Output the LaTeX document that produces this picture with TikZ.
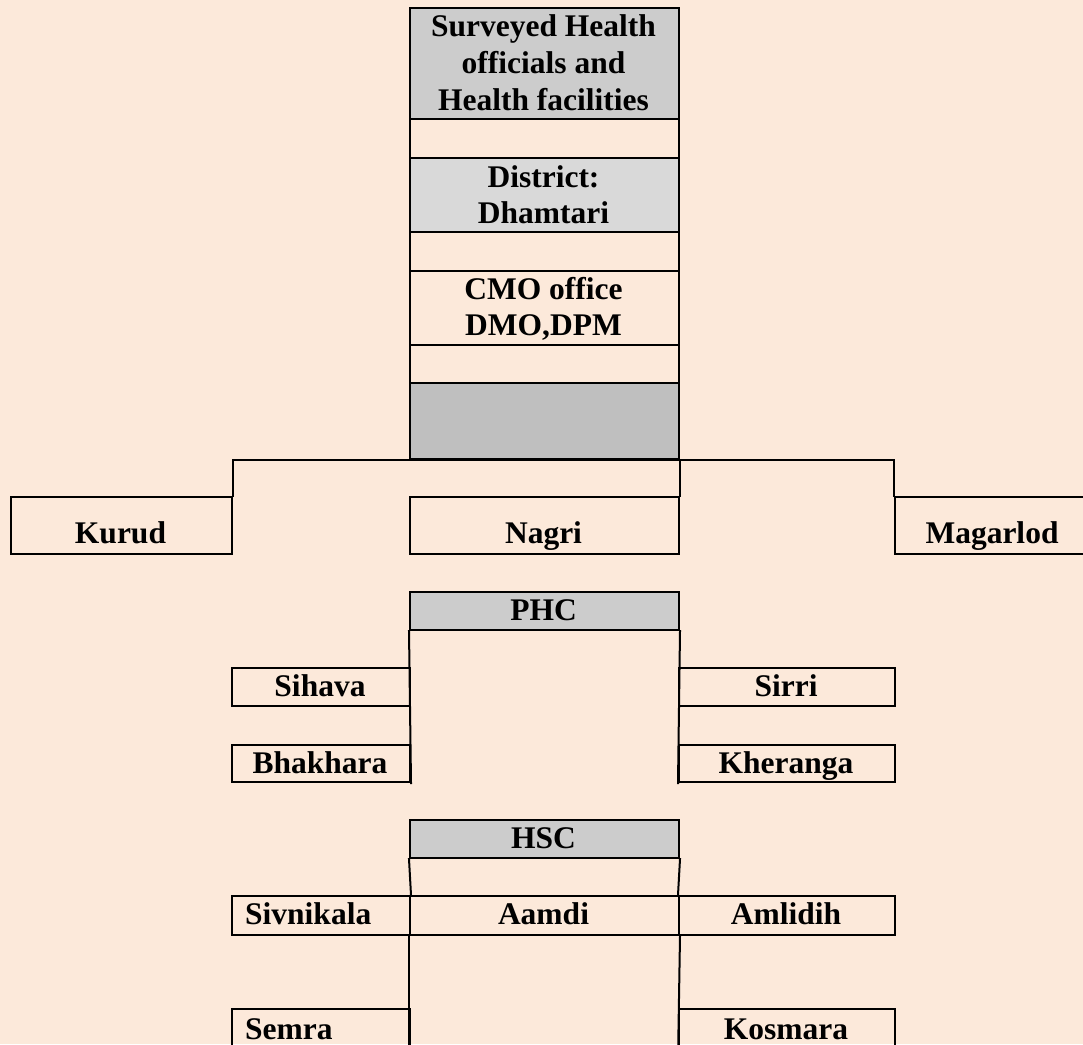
\documentclass[tikz,border=0pt]{standalone}
\usepackage{fontspec}
\setmainfont{Liberation Serif}
\definecolor{bg}{RGB}{252,233,218}
\definecolor{gA}{RGB}{204,204,204}
\definecolor{gB}{RGB}{217,217,217}
\definecolor{gC}{RGB}{191,191,191}
\begin{document}
\begin{tikzpicture}[x=1pt,y=-1pt,
  cell/.style={draw=black, line width=2pt, rectangle, inner sep=0pt, anchor=north west},
  txt/.style={font=\bfseries\fontsize{31.5}{37}\selectfont, inner sep=0pt, anchor=base},
  txtl/.style={txt, anchor=base west},
  conn/.style={draw=black, line width=2pt, line cap=rect}]
\fill[bg] (0,0) rectangle (1083,1044);
\useasboundingbox (0,0) rectangle (1083,1044);
% central column
\node[cell, fill=gA, minimum width=269pt, minimum height=111pt] (top) at (409,7) {};
\node[cell, minimum width=269pt, minimum height=39pt] (e1) at (409,118) {};
\node[cell, fill=gB, minimum width=269pt, minimum height=74pt] (district) at (409,157) {};
\node[cell, minimum width=269pt, minimum height=39pt] (e2) at (409,231) {};
\node[cell, minimum width=269pt, minimum height=74pt] (cmo) at (409,270) {};
\node[cell, minimum width=269pt, minimum height=38pt] (e3) at (409,344) {};
\node[cell, fill=gC, minimum width=269pt, minimum height=76pt] (grey) at (409,382) {};
% blocks
\node[cell, minimum width=221pt, minimum height=57pt] (kurud) at (10,496) {};
\node[cell, minimum width=269pt, minimum height=57pt] (nagri) at (409,496) {};
\node[cell, minimum width=200pt, minimum height=57pt] (magarlod) at (894,496) {};
% PHC
\node[cell, fill=gA, minimum width=269pt, minimum height=38pt] (phc) at (409,591) {};
\node[cell, minimum width=178pt, minimum height=38pt] (sihava) at (231,667) {};
\node[cell, minimum width=178pt, minimum height=37pt] (bhakhara) at (231,744) {};
\node[cell, minimum width=216pt, minimum height=38pt] (sirri) at (678,667) {};
\node[cell, minimum width=216pt, minimum height=37pt] (kheranga) at (678,744) {};
% HSC
\node[cell, fill=gA, minimum width=269pt, minimum height=38pt] (hsc) at (409,819) {};
\node[cell, minimum width=178pt, minimum height=39pt] (sivnikala) at (231,895) {};
\node[cell, minimum width=269pt, minimum height=39pt] (aamdi) at (409,895) {};
\node[cell, minimum width=216pt, minimum height=39pt] (amlidih) at (678,895) {};
\node[cell, minimum width=178pt, minimum height=60pt] (semra) at (231,1008) {};
\node[cell, minimum width=216pt, minimum height=60pt] (kosmara) at (678,1008) {};
% connectors
\draw[conn] (kurud.north east) -- (kurud.north east |- grey.south) -| (magarlod.north west);
\draw[conn] (grey.south east) -- (nagri.north east);
\draw[conn] (phc.south west) -- (bhakhara.south east);
\draw[conn] (phc.south east) -- (kheranga.south west);
\draw[conn] (hsc.south west) -- (sivnikala.north east);
\draw[conn] (hsc.south east) -- (amlidih.north west);
\coordinate (endL) at (409,1060);
\coordinate (endR) at (678,1060);
\draw[conn] (aamdi.south west) -- (endL);
\draw[conn] (aamdi.south east) -- (endR);
% texts
\node[txt] (t1) at (543.5,36) {Surveyed Health};
\node[txt] (t2) at (543.5,73) {officials and};
\node[txt] (t3) at (543.5,110) {Health facilities};
\node[txt] (t4) at (543.5,187) {District:};
\node[txt] (t5) at (543.5,223) {Dhamtari};
\node[txt] (t6) at (543.5,299) {CMO office};
\node[txt] (t7) at (543.5,335) {DMO,DPM};
\node[txt] (tk) at (120.5,543) {Kurud};
\node[txt] (tn) at (543.5,543) {Nagri};
\node[txt] (tm) at (992,543) {Magarlod};
\node[txt] (tp) at (543.5,620) {PHC};
\node[txt] (ts1) at (320,696) {Sihava};
\node[txt] (ts2) at (786,696) {Sirri};
\node[txt] (tb) at (320,773) {Bhakhara};
\node[txt] (tkh) at (786,773) {Kheranga};
\node[txt] (th) at (543.5,848) {HSC};
\node[txtl] (tsv) at (245,924) {Sivnikala};
\node[txt] (ta) at (543.5,924) {Aamdi};
\node[txt] (tam) at (786,924) {Amlidih};
\node[txtl] (tse) at (245,1039) {Semra};
\node[txt] (tko) at (786,1039) {Kosmara};
\end{tikzpicture}
\end{document}
